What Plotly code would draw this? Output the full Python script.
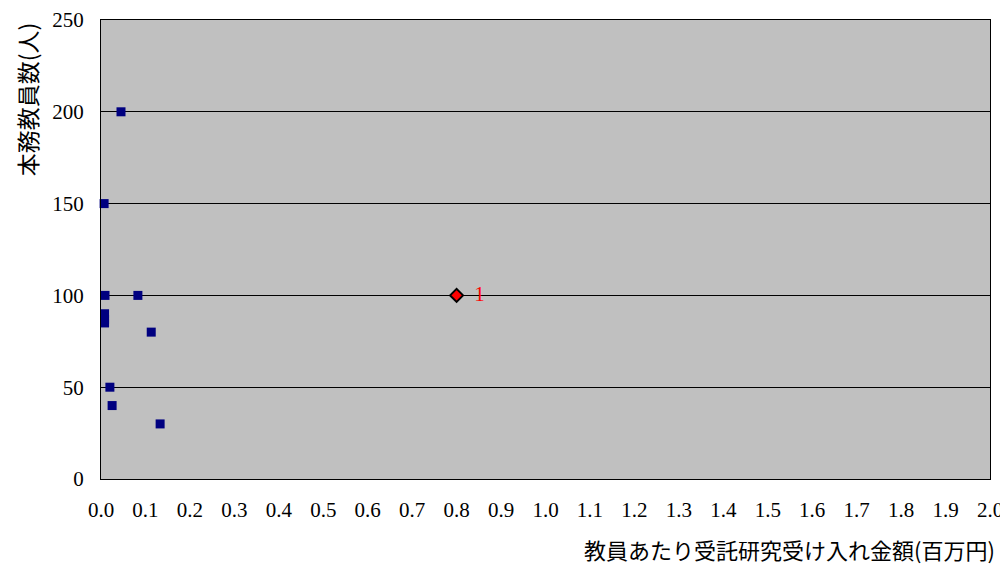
import plotly.graph_objects as go

x_vals = [0.045, 0.007, 0.009, 0.083, 0.008, 0.008, 0.008, 0.113, 0.020, 0.025, 0.133]
y_vals = [200, 150, 100, 100, 90, 87, 85, 80, 50, 40, 30]
hi_x = [0.8]
hi_y = [100]
hi_label = ["1"]
x_ticks = [round(i * 0.1, 1) for i in range(21)]
y_ticks = [0, 50, 100, 150, 200, 250]

serif = "Liberation Serif, DejaVu Serif, serif"
jp = "Noto Sans CJK JP"

fig = go.Figure()
fig.add_trace(go.Scatter(x=x_vals, y=y_vals, mode="markers",
                         marker=dict(symbol="square", size=9, color="#000080",
                                     line=dict(width=0)),
                         showlegend=False, cliponaxis=False))
fig.add_trace(go.Scatter(x=hi_x, y=hi_y, mode="markers+text", text=hi_label,
                         texttemplate="  %{text}",
                         textposition="middle right",
                         textfont=dict(color="#ff0000", size=21, family=serif),
                         marker=dict(symbol="diamond", size=10, color="#ff0000",
                                     line=dict(width=2, color="black")),
                         showlegend=False))

fig.update_layout(
    width=1000, height=556,
    paper_bgcolor="white", plot_bgcolor="#c0c0c0",
    margin=dict(l=93, r=18, t=12, b=85),
    font=dict(family=serif, size=21, color="black"),
    xaxis=dict(range=[0, 2.0], tickvals=x_ticks, tickformat=".1f", automargin=False,
               showgrid=False, zeroline=False, showline=True, linecolor="black",
               linewidth=1, mirror=True, ticks="", ticklen=0, ticklabelstandoff=12,
               tickfont=dict(family=serif, size=21)),
    yaxis=dict(range=[0, 250], tickvals=y_ticks, automargin=False,
               showgrid=True, gridcolor="black", ticklabelstandoff=12,
               gridwidth=1, zeroline=False, showline=True, linecolor="black",
               linewidth=1, mirror=True, ticks="", tickfont=dict(family=serif, size=21)),
    annotations=[
        dict(text="教員あたり受託研究受け入れ金額(百万円)", xref="paper", yref="paper",
             x=1.008, y=-0.1525, xanchor="right", yanchor="middle", showarrow=False,
             font=dict(family=jp, size=22)),
        dict(text="本務教員数(人)", xref="paper", yref="paper",
             x=-0.083, y=1.0, xanchor="center", yanchor="top", textangle=-90,
             showarrow=False, font=dict(family=jp, size=23)),
    ],
)

fig.write_html("out.html")
